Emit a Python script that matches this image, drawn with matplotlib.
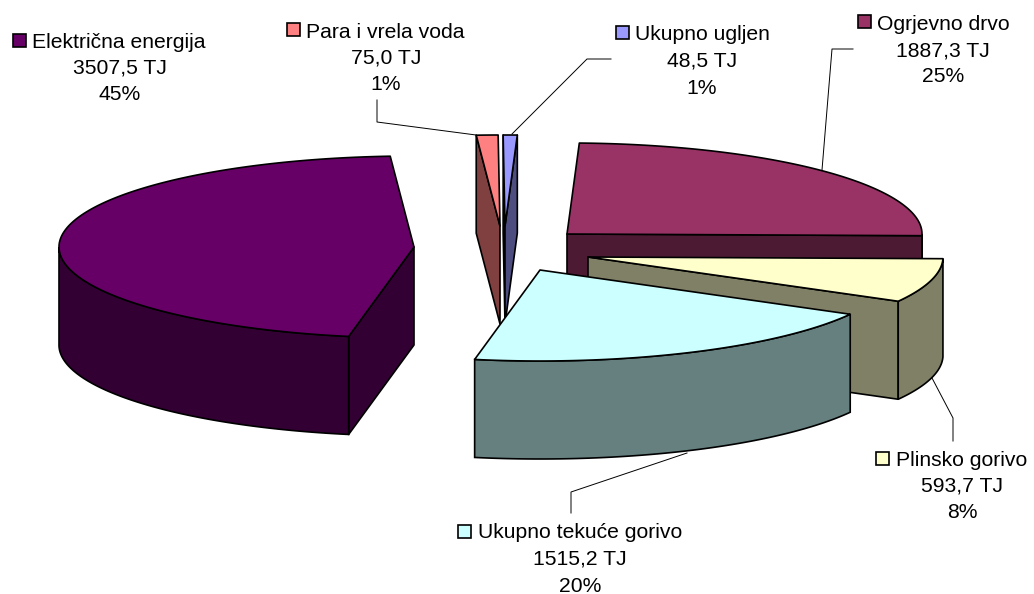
import numpy as np
import matplotlib
matplotlib.use("Agg")
import matplotlib.pyplot as plt
from matplotlib.patches import Polygon, Rectangle

plt.rcParams['font.family'] = ['Liberation Sans', 'DejaVu Sans']

# --- data (clockwise from 12 o'clock)
names = ["Ukupno ugljen", "Ogrjevno drvo", "Plinsko gorivo",
         "Ukupno tekuće gorivo", "Električna energija", "Para i vrela voda"]
values = [48.5, 1887.3, 593.7, 1515.2, 3507.5, 75.0]
value_labels = ["48,5 TJ", "1887,3 TJ", "593,7 TJ", "1515,2 TJ", "3507,5 TJ", "75,0 TJ"]
percent_labels = ["1%", "25%", "8%", "20%", "45%", "1%"]

# --- styles / layout
tops = ["#9999FF", "#993366", "#FFFFCC", "#CCFFFF", "#660066", "#FF8080"]
sides = ["#4D4D80", "#4D1A33", "#808066", "#668080", "#330033", "#804040"]
apex = [(505, 226), (567, 234), (588, 257), (540, 270), (414, 247), (500, 226)]
draw_order = [1, 0, 5, 4, 2, 3]
RX, RY, DEPTH = 355, 91, 98
START = 269.7
FS = 15.25
# key x, key y, first-line x, cap-centre y of line 1, centre x, y of line 2, y of line 3
label_pos = [
    (616, 26, 635, 33, 702, 59, 86),
    (858, 15, 877, 23, 943, 49, 75),
    (876, 452, 896, 458, 962, 484, 511),
    (458, 525, 478, 531, 580, 557, 584),
    (13, 34, 32, 41, 120, 66, 93),
    (287, 23, 306, 30, 386, 56, 83),
]
leaders = [
    [(611, 59), (587, 59), (512, 134)],
    [(853, 49), (832, 49), (822, 170)],
    [(932, 378), (953, 418), (953, 441)],
    [(687, 453), (571, 492), (571, 513)],
    [],
    [(377, 100), (377, 122), (476, 135)],
]

fig = plt.figure(figsize=(10.34, 5.94), dpi=100)
ax = fig.add_axes([0, 0, 1, 1])
ax.set_xlim(0, 1034)
ax.set_ylim(594, 0)
ax.axis("off")

sweeps = np.array(values) / np.sum(values) * 360.0
starts = START + np.concatenate([[0], np.cumsum(sweeps)[:-1]])
LW = 1.2


def arc(c, a0, a1, dy=0.0):
    t = np.radians(np.linspace(a0, a1, 160))
    return np.column_stack([c[0] + RX * np.cos(t), c[1] + RY * np.sin(t) + dy])


for i in draw_order:
    c, a0, a1 = apex[i], starts[i], starts[i] + sweeps[i]
    z = 2 + 3 * draw_order.index(i)
    top = arc(c, a0, a1)
    # cut faces: only those whose outward normal points to the viewer
    for p, normal in ((top[0], a0 - 90), (top[-1], a1 + 90)):
        if np.sin(np.radians(normal)) > 1e-6:
            face = [c, p, (p[0], p[1] + DEPTH), (c[0], c[1] + DEPTH)]
            ax.add_patch(Polygon(face, closed=True, fc=sides[i], ec="black", lw=LW,
                                 joinstyle="round", zorder=z))
    # outer rim: only the part facing the viewer (0..180 deg, modulo 360)
    for k in (0, 360, -360):
        lo, hi = max(a0, k), min(a1, k + 180)
        if hi > lo:
            upper = arc(c, lo, hi)
            lower = arc(c, lo, hi, DEPTH)
            ax.add_patch(Polygon(np.vstack([upper, lower[::-1]]), closed=True,
                                 fc=sides[i], ec="black", lw=LW, zorder=z + 1))
    ax.add_patch(Polygon(np.vstack([[c], top]), closed=True, fc=tops[i], ec="black",
                         lw=LW, joinstyle="round", zorder=z + 2))

BASE = 7.5
for i, name in enumerate(names):
    kx, ky, tx, ty, cx, y2, y3 = label_pos[i]
    ax.add_patch(Rectangle((kx, ky), 13, 13, fc=tops[i], ec="black", lw=1.2, zorder=40))
    ax.text(tx, ty + BASE, name, fontsize=FS, ha="left", va="baseline", color="black", zorder=40)
    ax.text(cx, y2 + BASE, value_labels[i], fontsize=FS, ha="center", va="baseline", color="black", zorder=40)
    ax.text(cx, y3 + BASE, percent_labels[i], fontsize=FS, ha="center", va="baseline", color="black", zorder=40)
    if leaders[i]:
        xs, ys = zip(*leaders[i])
        ax.plot(xs, ys, color="black", lw=0.7, zorder=1)

fig.savefig("out.png", dpi=100, facecolor="white")
